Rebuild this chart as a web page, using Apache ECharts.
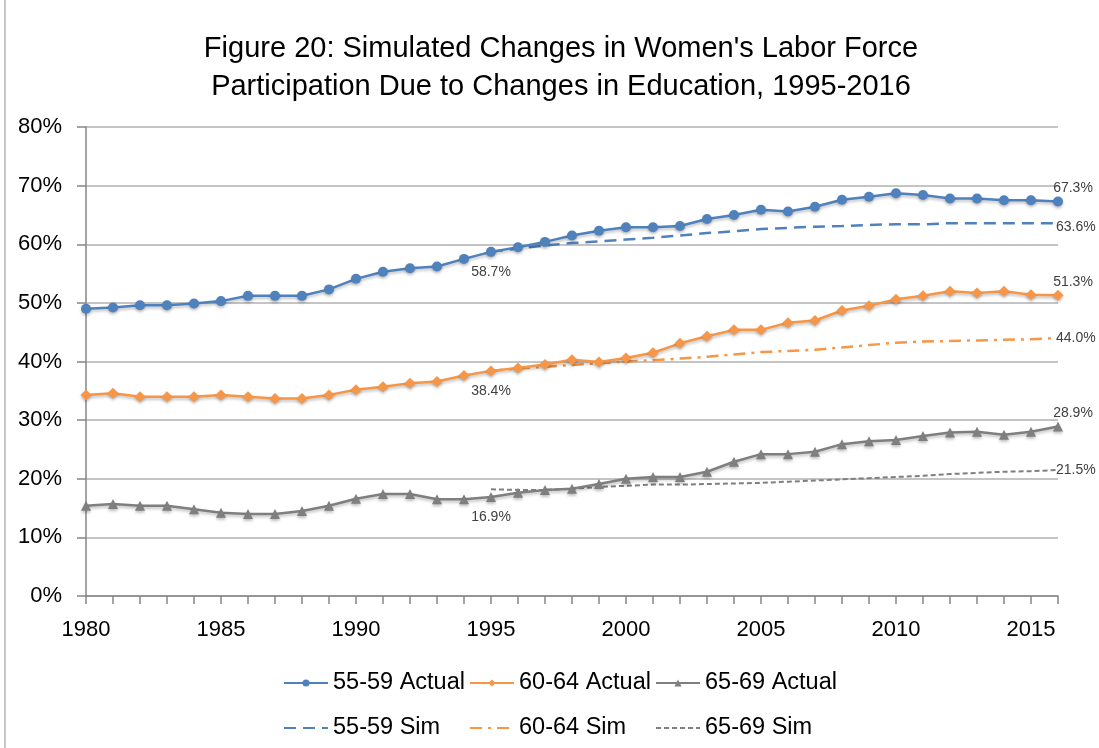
<!DOCTYPE html>
<html>
<head>
<meta charset="utf-8">
<script src="https://cdn.jsdelivr.net/npm/echarts@6/dist/echarts.min.js"></script>
<style>
html,body{margin:0;padding:0;background:#fff;}
#chart{width:1099px;height:748px;}
</style>
</head>
<body>
<div id="chart"></div>
<script>
// ---- data ----
var years = ['1980','1981','1982','1983','1984','1985','1986','1987','1988','1989',
  '1990','1991','1992','1993','1994','1995','1996','1997','1998','1999',
  '2000','2001','2002','2003','2004','2005','2006','2007','2008','2009',
  '2010','2011','2012','2013','2014','2015','2016'];
var simYears = ['1995','1996','1997','1998','1999','2000','2001','2002','2003','2004',
  '2005','2006','2007','2008','2009','2010','2011','2012','2013','2014','2015','2016'];

var actual5559 = [49.0,49.2,49.6,49.6,49.9,50.3,51.2,51.2,51.2,52.3,
  54.1,55.3,55.9,56.2,57.5,58.7,59.5,60.4,61.5,62.3,
  62.9,62.9,63.1,64.3,65.0,65.9,65.6,66.4,67.6,68.1,
  68.7,68.4,67.8,67.8,67.5,67.5,67.3];
var actual6064 = [34.3,34.6,34.0,34.0,34.0,34.3,34.0,33.7,33.7,34.3,
  35.2,35.7,36.3,36.6,37.6,38.4,38.9,39.5,40.3,39.9,
  40.6,41.5,43.1,44.3,45.4,45.4,46.6,47.0,48.7,49.5,
  50.6,51.2,52.0,51.7,52.0,51.4,51.3];
var actual6569 = [15.4,15.7,15.4,15.4,14.8,14.2,14.0,14.0,14.5,15.4,
  16.6,17.4,17.4,16.5,16.5,16.9,17.6,18.1,18.3,19.1,
  20.0,20.3,20.3,21.2,22.9,24.2,24.2,24.6,25.9,26.4,
  26.6,27.3,27.9,28.0,27.5,28.0,28.9];
var sim5559 = [58.7,59.3,59.8,60.2,60.5,60.8,61.1,61.5,61.9,62.2,
  62.6,62.8,63.0,63.1,63.3,63.4,63.4,63.6,63.6,63.6,63.6,63.6];
var sim6064 = [38.4,38.8,39.1,39.4,39.7,40.0,40.2,40.5,40.8,41.2,
  41.6,41.8,42.0,42.4,42.8,43.2,43.4,43.5,43.6,43.7,43.8,44.0];
var sim6569 = [18.2,18.1,18.1,18.3,18.6,18.8,19.0,19.0,19.1,19.2,
  19.3,19.5,19.7,19.9,20.1,20.3,20.5,20.8,21.0,21.2,21.3,21.5];
var yTicks = [0,10,20,30,40,50,60,70,80];
var labelYear = '1995';
var endYear = '2016';

// ---- styling ----
var FONT = 'Liberation Sans';
var BLUE = '#4f81bd', ORANGE = '#f79646', GRAY = '#7f7f7f';
var LABEL_COLOR = '#404040';
function fmt(v){ return v.toFixed(1) + '%'; }

function actualData(vals){
  return vals.map(function(v, i){
    var item = {value: [years[i], v]};
    if (years[i] === labelYear) {
      item.label = {show: true, position: 'bottom', distance: 8, formatter: fmt(v)};
    } else if (years[i] === endYear) {
      item.label = {show: true, position: 'top', distance: 1, offset: [15, 0], formatter: fmt(v)};
    }
    return item;
  });
}
function simData(vals, dy){
  return vals.map(function(v, i){
    var item = {value: [simYears[i], v]};
    if (simYears[i] === endYear) {
      item.symbol = 'circle';
      item.symbolSize = 2;
      item.itemStyle = {color: 'rgba(0,0,0,0)'};
      item.label = {show: true, position: 'right', distance: 0, offset: [-3, dy], formatter: fmt(v)};
    }
    return item;
  });
}
var shadow = {shadowColor: 'rgba(0,0,0,0.25)', shadowBlur: 3, shadowOffsetY: 2};
function actualSeries(name, vals, color, symbol, size){
  return {
    name: name, type: 'line', data: actualData(vals),
    symbol: symbol, symbolSize: size, showSymbol: true,
    lineStyle: Object.assign({color: color, width: 2.5}, shadow),
    itemStyle: Object.assign({color: color}, shadow),
    label: {color: LABEL_COLOR, fontFamily: FONT, fontSize: 14},
    z: 3
  };
}
function simSeries(name, vals, color, dash, width, dy){
  return {
    name: name, type: 'line', data: simData(vals, dy),
    symbol: 'none', showSymbol: true,
    lineStyle: {color: color, width: width, type: dash},
    itemStyle: {color: color},
    label: {color: LABEL_COLOR, fontFamily: FONT, fontSize: 14},
    z: 2
  };
}
function legendItem(name, left, top, hideSymbol){
  var lg = {
    data: [name], left: left, top: top, padding: 0,
    itemWidth: 44, itemHeight: 9, itemGap: 0,
    textStyle: {fontFamily: FONT, fontSize: 23.5, color: '#000'}
  };
  if (hideSymbol) {
    lg.itemStyle = {color: 'rgba(0,0,0,0)', borderWidth: 0, opacity: 0};
  }
  return lg;
}

var chart = echarts.init(document.getElementById('chart'), null, {renderer: 'canvas'});
chart.setOption({
  animation: false,
  backgroundColor: '#fff',
  title: {
    text: "Figure 20: Simulated Changes in Women's Labor Force\nParticipation Due to Changes in Education, 1995-2016",
    left: 556, top: 25, textAlign: 'center',
    textStyle: {fontFamily: FONT, fontSize: 29, fontWeight: 'normal', color: '#000', lineHeight: 38}
  },
  graphic: [{type: 'line', shape: {x1: 5, y1: 0, x2: 5, y2: 748}, style: {stroke: '#c8c8c8', lineWidth: 2}}],
  legend: [
    legendItem('55-59 Actual', 283, 671, false),
    legendItem('60-64 Actual', 469, 671, false),
    legendItem('65-69 Actual', 655, 671, false),
    legendItem('55-59 Sim', 283, 716, true),
    legendItem('60-64 Sim', 469, 716, true),
    legendItem('65-69 Sim', 655, 716, true)
  ],
  grid: {left: 86, right: 41, top: 127, bottom: 152},
  xAxis: {
    type: 'category', data: years, boundaryGap: false,
    axisLine: {lineStyle: {color: '#868686', width: 1.5}},
    axisTick: {show: true, interval: 0, length: 8, lineStyle: {color: '#868686', width: 1.5}},
    axisLabel: {
      interval: function(i){ return i % 5 === 0 && i < years.length - 1; },
      margin: 23, fontFamily: FONT, fontSize: 22, color: '#000'
    },
    splitLine: {show: false}
  },
  yAxis: {
    type: 'value', min: yTicks[0], max: yTicks[yTicks.length - 1], interval: 10,
    axisLine: {show: true, lineStyle: {color: '#868686', width: 1.5}},
    axisTick: {show: true, length: 9, lineStyle: {color: '#868686', width: 1.5}},
    axisLabel: {formatter: '{value}%', margin: 24, fontFamily: FONT, fontSize: 22, color: '#000'},
    splitLine: {lineStyle: {color: '#c4c4c4', width: 2}}
  },
  series: [
    simSeries('55-59 Sim', sim5559, BLUE, [12, 7], 2.5, 4),
    simSeries('60-64 Sim', sim6064, ORANGE, [12, 6, 3, 6], 2.5, 0),
    simSeries('65-69 Sim', sim6569, GRAY, [5, 3], 2, 0),
    actualSeries('55-59 Actual', actual5559, BLUE, 'circle', 10),
    actualSeries('60-64 Actual', actual6064, ORANGE, 'diamond', 11),
    actualSeries('65-69 Actual', actual6569, GRAY, 'triangle', 10)
  ]
});
</script>
</body>
</html>
